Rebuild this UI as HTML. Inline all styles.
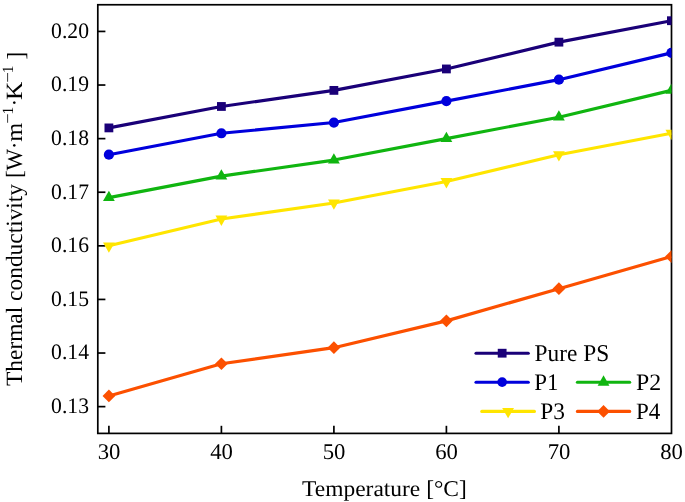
<!DOCTYPE html>
<html><head><meta charset="utf-8"><style>
html,body{margin:0;padding:0;background:#fff;overflow:hidden;}
svg{display:block;}
svg{will-change:transform;}
.t{font-family:"Liberation Serif",serif;fill:#000;text-rendering:geometricPrecision;}
</style></head><body>
<svg width="685" height="502" viewBox="0 0 685 502">
<defs><clipPath id="c"><rect x="97.8" y="4.75" width="573.70" height="428.65"/></clipPath></defs>
<rect class="nm" x="97.8" y="4.75" width="573.70" height="428.65" fill="none" stroke="#000" stroke-width="1.7"/>
<line class="nm" x1="97.8" y1="406.63" x2="105.40" y2="406.63" stroke="#000" stroke-width="1.7"/>
<line class="nm" x1="97.8" y1="353.03" x2="105.40" y2="353.03" stroke="#000" stroke-width="1.7"/>
<line class="nm" x1="97.8" y1="299.43" x2="105.40" y2="299.43" stroke="#000" stroke-width="1.7"/>
<line class="nm" x1="97.8" y1="245.83" x2="105.40" y2="245.83" stroke="#000" stroke-width="1.7"/>
<line class="nm" x1="97.8" y1="192.23" x2="105.40" y2="192.23" stroke="#000" stroke-width="1.7"/>
<line class="nm" x1="97.8" y1="138.63" x2="105.40" y2="138.63" stroke="#000" stroke-width="1.7"/>
<line class="nm" x1="97.8" y1="85.03" x2="105.40" y2="85.03" stroke="#000" stroke-width="1.7"/>
<line class="nm" x1="97.8" y1="31.43" x2="105.40" y2="31.43" stroke="#000" stroke-width="1.7"/>
<line class="nm" x1="108.90" y1="433.4" x2="108.90" y2="425.80" stroke="#000" stroke-width="1.7"/>
<line class="nm" x1="221.40" y1="433.4" x2="221.40" y2="425.80" stroke="#000" stroke-width="1.7"/>
<line class="nm" x1="333.90" y1="433.4" x2="333.90" y2="425.80" stroke="#000" stroke-width="1.7"/>
<line class="nm" x1="446.40" y1="433.4" x2="446.40" y2="425.80" stroke="#000" stroke-width="1.7"/>
<line class="nm" x1="558.90" y1="433.4" x2="558.90" y2="425.80" stroke="#000" stroke-width="1.7"/>
<g><text transform="translate(88.947,413.000) scale(0.9970,1.0209)" text-anchor="end" font-size="21.7" class="t">0.13</text></g>
<g><text transform="translate(88.947,359.000) scale(0.9970,1.0209)" text-anchor="end" font-size="21.7" class="t">0.14</text></g>
<g><text transform="translate(88.947,306.000) scale(0.9970,1.0209)" text-anchor="end" font-size="21.7" class="t">0.15</text></g>
<g><text transform="translate(88.947,252.000) scale(0.9970,1.0209)" text-anchor="end" font-size="21.7" class="t">0.16</text></g>
<g><text transform="translate(88.947,199.000) scale(0.9970,1.0209)" text-anchor="end" font-size="21.7" class="t">0.17</text></g>
<g><text transform="translate(88.947,145.000) scale(0.9970,1.0209)" text-anchor="end" font-size="21.7" class="t">0.18</text></g>
<g><text transform="translate(88.947,91.000) scale(0.9970,1.0209)" text-anchor="end" font-size="21.7" class="t">0.19</text></g>
<g id="yt"><text transform="translate(88.947,38.000) scale(0.9970,1.0209)" text-anchor="end" font-size="21.7" class="t">0.20</text></g>
<g id="xt"><text transform="translate(109.026,459.000) scale(1.0247,1.0128)" text-anchor="middle" font-size="22.2" class="t">30</text></g>
<g><text transform="translate(221.526,459.000) scale(1.0247,1.0128)" text-anchor="middle" font-size="22.2" class="t">40</text></g>
<g><text transform="translate(334.026,459.000) scale(1.0247,1.0128)" text-anchor="middle" font-size="22.2" class="t">50</text></g>
<g><text transform="translate(446.526,459.000) scale(1.0247,1.0128)" text-anchor="middle" font-size="22.2" class="t">60</text></g>
<g><text transform="translate(559.026,459.000) scale(1.0247,1.0128)" text-anchor="middle" font-size="22.2" class="t">70</text></g>
<g><text transform="translate(671.526,459.000) scale(1.0247,1.0128)" text-anchor="middle" font-size="22.2" class="t">80</text></g>
<g class="nm" clip-path="url(#c)"><polyline points="108.90,127.91 221.40,106.47 333.90,90.39 446.40,68.95 558.90,42.15 671.40,20.71" fill="none" stroke="#1a0078" stroke-width="3.15" stroke-linejoin="round"/><rect x="104.50" y="123.51" width="8.80" height="8.80" fill="#1a0078"/><rect x="217.00" y="102.07" width="8.80" height="8.80" fill="#1a0078"/><rect x="329.50" y="85.99" width="8.80" height="8.80" fill="#1a0078"/><rect x="442.00" y="64.55" width="8.80" height="8.80" fill="#1a0078"/><rect x="554.50" y="37.75" width="8.80" height="8.80" fill="#1a0078"/><rect x="667.00" y="16.31" width="8.80" height="8.80" fill="#1a0078"/></g>
<g class="nm" clip-path="url(#c)"><polyline points="108.90,154.71 221.40,133.27 333.90,122.55 446.40,101.11 558.90,79.67 671.40,52.87" fill="none" stroke="#0000dc" stroke-width="3.15" stroke-linejoin="round"/><circle cx="108.90" cy="154.71" r="5.10" fill="#0000dc"/><circle cx="221.40" cy="133.27" r="5.10" fill="#0000dc"/><circle cx="333.90" cy="122.55" r="5.10" fill="#0000dc"/><circle cx="446.40" cy="101.11" r="5.10" fill="#0000dc"/><circle cx="558.90" cy="79.67" r="5.10" fill="#0000dc"/><circle cx="671.40" cy="52.87" r="5.10" fill="#0000dc"/></g>
<g class="nm" clip-path="url(#c)"><polyline points="108.90,197.59 221.40,176.15 333.90,160.07 446.40,138.63 558.90,117.19 671.40,90.39" fill="none" stroke="#10b510" stroke-width="3.15" stroke-linejoin="round"/><polygon points="108.90,190.72 114.80,201.02 103.00,201.02" fill="#10b510"/><polygon points="221.40,169.28 227.30,179.58 215.50,179.58" fill="#10b510"/><polygon points="333.90,153.20 339.80,163.50 328.00,163.50" fill="#10b510"/><polygon points="446.40,131.76 452.30,142.06 440.50,142.06" fill="#10b510"/><polygon points="558.90,110.32 564.80,120.62 553.00,120.62" fill="#10b510"/><polygon points="671.40,83.52 677.30,93.82 665.50,93.82" fill="#10b510"/></g>
<g class="nm" clip-path="url(#c)"><polyline points="108.90,245.83 221.40,219.03 333.90,202.95 446.40,181.51 558.90,154.71 671.40,133.27" fill="none" stroke="#ffe500" stroke-width="3.15" stroke-linejoin="round"/><polygon points="103.00,242.40 114.80,242.40 108.90,252.70" fill="#ffe500"/><polygon points="215.50,215.60 227.30,215.60 221.40,225.90" fill="#ffe500"/><polygon points="328.00,199.52 339.80,199.52 333.90,209.82" fill="#ffe500"/><polygon points="440.50,178.08 452.30,178.08 446.40,188.38" fill="#ffe500"/><polygon points="553.00,151.28 564.80,151.28 558.90,161.58" fill="#ffe500"/><polygon points="665.50,129.84 677.30,129.84 671.40,140.14" fill="#ffe500"/></g>
<g class="nm" clip-path="url(#c)"><polyline points="108.90,395.91 221.40,363.75 333.90,347.67 446.40,320.87 558.90,288.71 671.40,256.55" fill="none" stroke="#fc5000" stroke-width="3.15" stroke-linejoin="round"/><polygon points="108.90,389.56 115.25,395.91 108.90,402.26 102.55,395.91" fill="#fc5000"/><polygon points="221.40,357.40 227.75,363.75 221.40,370.10 215.05,363.75" fill="#fc5000"/><polygon points="333.90,341.32 340.25,347.67 333.90,354.02 327.55,347.67" fill="#fc5000"/><polygon points="446.40,314.52 452.75,320.87 446.40,327.22 440.05,320.87" fill="#fc5000"/><polygon points="558.90,282.36 565.25,288.71 558.90,295.06 552.55,288.71" fill="#fc5000"/><polygon points="671.40,250.20 677.75,256.55 671.40,262.90 665.05,256.55" fill="#fc5000"/></g>
<g class="nm"><line x1="476.0" y1="353.2" x2="528.3" y2="353.2" stroke="#1a0078" stroke-width="3.1" stroke-linecap="round"/><rect x="497.75" y="348.80" width="8.80" height="8.80" fill="#1a0078"/></g>
<g class="nm"><line x1="476.0" y1="382.2" x2="528.3" y2="382.2" stroke="#0000dc" stroke-width="3.1" stroke-linecap="round"/><circle cx="502.15" cy="382.20" r="4.84" fill="#0000dc"/></g>
<g class="nm"><line x1="577.4" y1="382.2" x2="629.7" y2="382.2" stroke="#10b510" stroke-width="3.1" stroke-linecap="round"/><polygon points="603.55,375.33 609.45,385.63 597.65,385.63" fill="#10b510"/></g>
<g class="nm"><line x1="481.8" y1="411.4" x2="534.4" y2="411.4" stroke="#ffe500" stroke-width="3.1" stroke-linecap="round"/><polygon points="502.20,407.97 514.00,407.97 508.10,418.27" fill="#ffe500"/></g>
<g class="nm"><line x1="577.4" y1="411.4" x2="629.7" y2="411.4" stroke="#fc5000" stroke-width="3.1" stroke-linecap="round"/><polygon points="603.55,405.05 609.90,411.40 603.55,417.75 597.20,411.40" fill="#fc5000"/></g>
<g id="xtitle"><text transform="translate(302.067,496.000) scale(1.0071,0.9674)" text-anchor="start" font-size="23.3" class="t">Temperature [°C]</text></g>
<g id="lg0"><text transform="translate(534.606,361.000) scale(1.0012,1.0302)" text-anchor="start" font-size="23.3" class="t">Pure PS</text></g>
<g id="lg1"><text transform="translate(534.168,390.000) scale(0.9847,1.0178)" text-anchor="start" font-size="23.3" class="t">P1</text></g>
<g id="lg2"><text transform="translate(636.002,390.000) scale(1.0231,1.0130)" text-anchor="start" font-size="23.3" class="t">P2</text></g>
<g id="lg3"><text transform="translate(540.245,419.000) scale(1.0045,1.0167)" text-anchor="start" font-size="23.3" class="t">P3</text></g>
<g id="lg4"><text transform="translate(635.951,419.000) scale(0.9900,1.0041)" text-anchor="start" font-size="23.3" class="t">P4</text></g>
<g id="yA"><text transform="translate(22.300,385.982) rotate(-90) scale(1.0041,1.0000)" text-anchor="start" font-size="23.3" class="t">Thermal conductivity [</text></g>
<g id="yW"><text transform="translate(22.300,170.519) rotate(-90) scale(0.9812,1.0000)" text-anchor="start" font-size="23.3" class="t">W</text></g>
<g id="yd1"><text transform="translate(22.300,145.400) rotate(-90) scale(1.0000,1.0000)" text-anchor="middle" font-size="23.3" class="t">·</text></g>
<g id="ym"><text transform="translate(22.300,141.843) rotate(-90) scale(1.0453,1.0000)" text-anchor="start" font-size="23.3" class="t">m</text></g>
<g id="ymi1"><text transform="translate(12.800,123.778) rotate(-90) scale(1.1432,1.0000)" text-anchor="start" font-size="16.0" class="t">−</text></g>
<g id="y11"><text transform="translate(12.800,114.620) rotate(-90) scale(1.0000,1.0000)" text-anchor="start" font-size="15.6" class="t">1</text></g>
<g id="yd2"><text transform="translate(22.300,102.650) rotate(-90) scale(1.0000,1.0000)" text-anchor="middle" font-size="23.3" class="t">·</text></g>
<g id="yK"><text transform="translate(22.300,99.879) rotate(-90) scale(1.0916,1.0000)" text-anchor="start" font-size="23.3" class="t">K</text></g>
<g id="ymi2"><text transform="translate(12.800,82.748) rotate(-90) scale(1.1891,1.0000)" text-anchor="start" font-size="16.0" class="t">−</text></g>
<g id="y12"><text transform="translate(12.800,73.320) rotate(-90) scale(1.0000,1.0000)" text-anchor="start" font-size="15.6" class="t">1</text></g>
<g id="yB"><text transform="translate(24.000,59.430) rotate(-90) scale(1.0000,1.0520)" text-anchor="start" font-size="23.3" class="t">]</text></g>
</svg>
</body></html>
